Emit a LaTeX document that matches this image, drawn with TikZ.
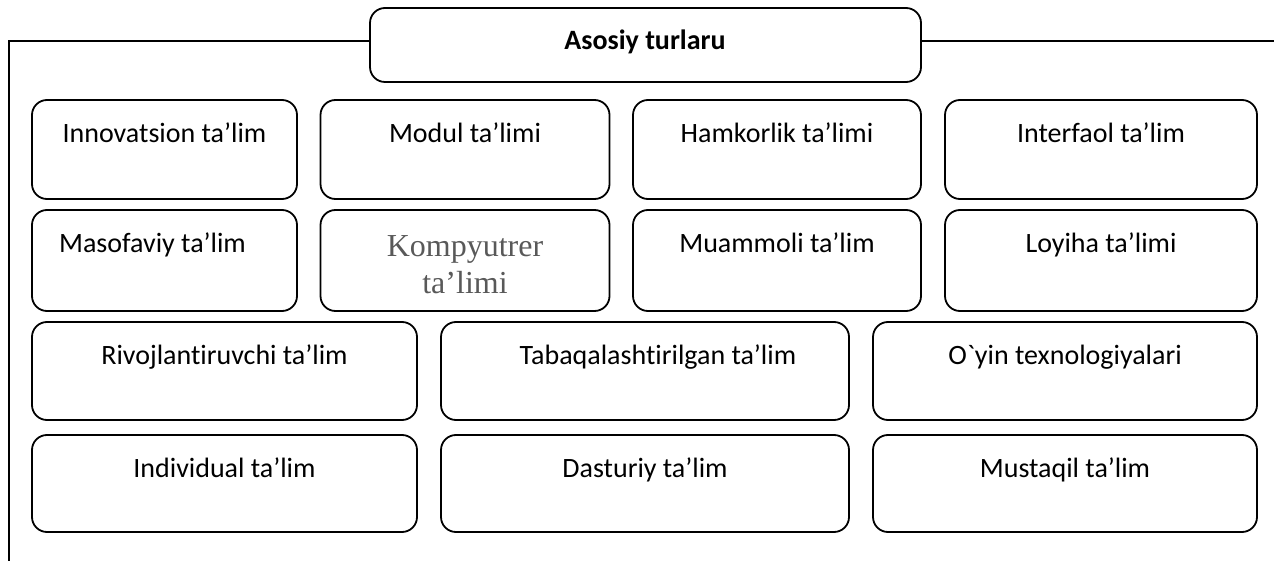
\documentclass[tikz,border=0pt]{standalone}
\usepackage{fontspec}
\setmainfont[Ligatures={NoCommon,TeXOff}]{Carlito}
\newfontfamily\serifgray{Liberation Serif}
\definecolor{kgray}{HTML}{595959}
\begin{document}
\begin{tikzpicture}[x=1pt,y=-1pt,
  box/.style={draw=black, line width=1.8pt, rounded corners=15pt, inner sep=0pt},
  lbl/.style={font=\fontsize{28}{33}\selectfont, inner sep=0pt, anchor=base},
  frame/.style={line width=1.8pt}]
\useasboundingbox (0,0) rectangle (1274,561);
% header
\node[box, minimum width=551pt, minimum height=74pt] (top) at (645.5,45) {};
\node[font=\fontsize{28}{33}\selectfont\bfseries, inner sep=0pt, anchor=base] (toptxt) at (645,50) {Asosiy turlaru};
\coordinate (fl) at (9,41);
\coordinate (fb) at (9,561);
\coordinate (fr) at (1274,41);
\draw[frame] ([yshift=4pt]top.west) -- (fl) -- (fb);
\draw[frame] ([yshift=4pt]top.east) -- (fr);
% row 1
\node[box, minimum width=265pt, minimum height=99pt] (b11) at (164.5,149.5) {};
\node[box, minimum width=289pt, minimum height=99pt] (b12) at (465,149.5) {};
\node[box, minimum width=288pt, minimum height=99pt] (b13) at (777,149.5) {};
\node[box, minimum width=312pt, minimum height=99pt] (b14) at (1101,149.5) {};
\node[lbl] (t11) at ([yshift=-43pt]b11.north) {Innovatsion ta’lim};
\node[lbl] (t12) at ([yshift=-43pt]b12.north) {Modul ta’limi};
\node[lbl] (t13) at ([yshift=-43pt]b13.north) {Hamkorlik ta’limi};
\node[lbl] (t14) at ([yshift=-43pt]b14.north) {Interfaol ta’lim};
% row 2
\node[box, minimum width=265pt, minimum height=101pt] (b21) at (164.5,260.5) {};
\node[box, minimum width=289pt, minimum height=101pt] (b22) at (465,260.5) {};
\node[box, minimum width=288pt, minimum height=101pt] (b23) at (777,260.5) {};
\node[box, minimum width=312pt, minimum height=101pt] (b24) at (1101,260.5) {};
\node[lbl] (t21) at ([xshift=-12pt,yshift=-43pt]b21.north) {Masofaviy ta’lim};
\node[font=\serifgray\fontsize{32}{37}\selectfont, text=kgray, inner sep=0pt, anchor=base] (t22a) at ([yshift=-47pt]b22.north) {Kompyutrer};
\node[font=\serifgray\fontsize{32}{37}\selectfont, text=kgray, inner sep=0pt, anchor=base] (t22b) at ([yshift=-84pt]b22.north) {ta’limi};
\node[lbl] (t23) at ([yshift=-43pt]b23.north) {Muammoli ta’lim};
\node[lbl] (t24) at ([yshift=-43pt]b24.north) {Loyiha ta’limi};
% row 3
\node[box, minimum width=385pt, minimum height=98pt] (b31) at (224.5,371) {};
\node[box, minimum width=408pt, minimum height=98pt] (b32) at (645,371) {};
\node[box, minimum width=384pt, minimum height=98pt] (b33) at (1065,371) {};
\node[lbl] (t31) at ([yshift=-43pt]b31.north) {Rivojlantiruvchi ta’lim};
\node[lbl] (t32) at ([xshift=13pt,yshift=-43pt]b32.north) {Tabaqalashtirilgan ta’lim};
\node[lbl] (t33) at ([yshift=-43pt]b33.north) {O`yin texnologiyalari};
% row 4
\node[box, minimum width=385pt, minimum height=97pt] (b41) at (224.5,483.5) {};
\node[box, minimum width=408pt, minimum height=97pt] (b42) at (645,483.5) {};
\node[box, minimum width=384pt, minimum height=97pt] (b43) at (1065,483.5) {};
\node[lbl] (t41) at ([yshift=-43pt]b41.north) {Individual ta’lim};
\node[lbl] (t42) at ([yshift=-43pt]b42.north) {Dasturiy ta’lim};
\node[lbl] (t43) at ([yshift=-43pt]b43.north) {Mustaqil ta’lim};
\end{tikzpicture}
\end{document}
